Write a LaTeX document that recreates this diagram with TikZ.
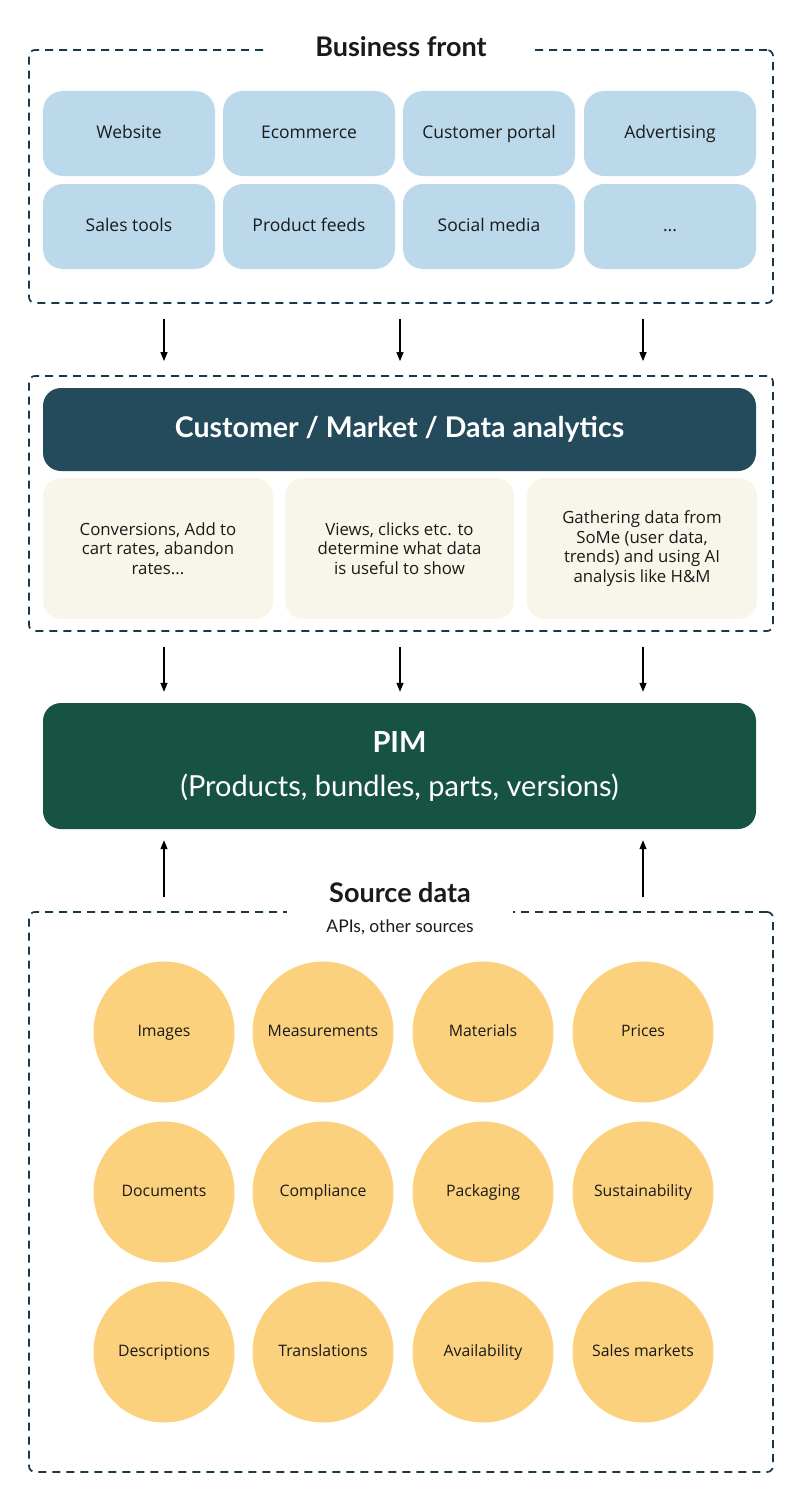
\documentclass[tikz,border=0pt]{standalone}
\usepackage{fontspec}
\setmainfont{Open Sans}
\newfontfamily\headfont{Lato}
\usetikzlibrary{arrows.meta,positioning,calc}
\definecolor{frontblue}{HTML}{BBD9EA}
\definecolor{teal}{HTML}{234B5B}
\definecolor{cream}{HTML}{F8F5EA}
\definecolor{pimgreen}{HTML}{165343}
\definecolor{srcyellow}{HTML}{FBD17D}
\definecolor{dashcol}{HTML}{17394A}
\definecolor{ink}{HTML}{1A1A1A}

\begin{document}
\begin{tikzpicture}
[x=1pt,y=-1pt,text=ink,
dashbox/.style={draw=dashcol,line width=1.7pt,dash pattern=on 8pt off 6pt,rounded corners=6pt,inner sep=0pt},
front/.style={fill=frontblue,rounded corners=20pt,minimum width=172pt,minimum height=85pt,inner sep=0pt,text height=0.98em,text depth=0em,font=\fontsize{17.5}{20}\selectfont},
note/.style={fill=cream,rounded corners=18pt,minimum height=141pt,inner sep=0pt,align=center,font=\fontsize{16.8}{19.5}\selectfont},
src/.style={circle,fill=srcyellow,minimum size=141pt,inner sep=0pt,text height=0.98em,text depth=0em,font=\fontsize{15.8}{18}\selectfont},
title/.style={fill=white,inner sep=0pt,font=\headfont\bfseries\fontsize{27}{32}\selectfont},
arr/.style={line width=1.3pt,-{Triangle[width=7pt,length=9pt]}}]
\useasboundingbox (0,0) rectangle (800,1501);

\node[dashbox,minimum width=744pt,minimum height=253pt] (frontbox) at (401,176.5) {};
\node[title,minimum width=268pt,minimum height=40pt] (fronttitle) at (401,47) {Business front};
\node[front] (web) at (129,133.5) {Website};
\node[front] (ecom) at (309,133.5) {Ecommerce};
\node[front] (portal) at (489,133.5) {Customer portal};
\node[front] (ads) at (670,133.5) {Advertising};
\node[front] (sales) at (129,226.5) {Sales tools};
\node[front] (feeds) at (309,226.5) {Product feeds};
\node[front] (social) at (489,226.5) {Social media};
\node[front] (more) at (670,226.5) {...};

\node[dashbox,minimum width=744pt,minimum height=255pt] (midbox) at (401,503.5) {};
\node[fill=teal,rounded corners=18pt,minimum width=713pt,minimum height=83pt,text=white,font=\headfont\bfseries\fontsize{28.5}{32}\selectfont] (analytics) at (399.5,429.5) {Customer / Market / Data analytics};
\node[note,minimum width=230pt] (conv) at (158,548.5) {Conversions, Add to\\cart rates, abandon\\rates...};
\node[note,minimum width=229pt] (views) at (399.5,548.5) {Views, clicks etc. to\\determine what data\\is useful to show};
\node[note,minimum width=230pt] (some) at (642,548.5) {Gathering data from\\SoMe (user data,\\trends) and using AI\\analysis like H\&M};

\node[fill=pimgreen,rounded corners=18pt,minimum width=713pt,minimum height=126pt,text=white,align=center,font=\headfont\fontsize{29}{44}\selectfont] (pim) at (399.5,766) {\textbf{PIM}\\(Products, bundles, parts, versions)};

\node[dashbox,minimum width=744pt,minimum height=560pt] (srcbox) at (401,1192) {};
\node[title,minimum width=226pt,minimum height=44pt] (srctitle) at (400,893) {Source data};
\node[font=\headfont\fontsize{17.5}{20}\selectfont] (apis) at (400,927) {APIs, other sources};
\node[src] (img) at (164,1032) {Images};
\node[src] (meas) at (323,1032) {Measurements};
\node[src] (mat) at (483,1032) {Materials};
\node[src] (price) at (643,1032) {Prices};
\node[src] (docs) at (164,1192) {Documents};
\node[src] (comp) at (323,1192) {Compliance};
\node[src] (pack) at (483,1192) {Packaging};
\node[src] (sust) at (643,1192) {Sustainability};
\node[src] (desc) at (164,1352) {Descriptions};
\node[src] (trans) at (323,1352) {Translations};
\node[src] (avail) at (483,1352) {Availability};
\node[src] (mkts) at (643,1352) {Sales markets};

\draw[arr] ([xshift=-237pt,yshift=-15pt]frontbox.south) -- ([xshift=-237pt,yshift=14pt]midbox.north);
\draw[arr] ([xshift=-1pt,yshift=-15pt]frontbox.south) -- ([xshift=-1pt,yshift=14pt]midbox.north);
\draw[arr] ([xshift=242pt,yshift=-15pt]frontbox.south) -- ([xshift=242pt,yshift=14pt]midbox.north);
\draw[arr] ([xshift=-237pt,yshift=-15pt]midbox.south) -- ([xshift=-235.5pt,yshift=11pt]pim.north);
\draw[arr] ([xshift=-1pt,yshift=-15pt]midbox.south) -- ([xshift=0.5pt,yshift=11pt]pim.north);
\draw[arr] ([xshift=242pt,yshift=-15pt]midbox.south) -- ([xshift=243.5pt,yshift=11pt]pim.north);
\draw[arr] ([yshift=14pt]srcbox.north -| img) -- ([yshift=-11pt]pim.south -| img);
\draw[arr] ([yshift=14pt]srcbox.north -| price) -- ([yshift=-11pt]pim.south -| price);
\end{tikzpicture}
\end{document}
